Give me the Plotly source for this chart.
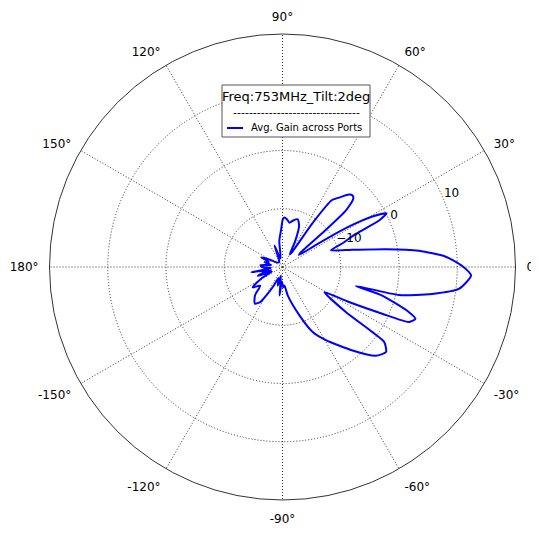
import plotly.graph_objects as go

# Radiation pattern: azimuth angle (deg, counterclockwise from 0°) and average gain (dB)
angle_deg = [
    -180, -175, -170.4, -166, -163, -160, -157, -152, -145.6, -140,
    -134, -127, -122, -119.6, -115, -110, -104, -100, -96, -92,
    -88, -84, -79.5, -70.7, -65.1, -59.3, -50, -43.6, -39.4, -36.4,
    -35.9, -35.4, -31, -27.8, -25.1, -23.5, -21.3, -19.6, -16, -14.5,
    -13.5, -10.2, -7.1, -2.6, 0.4, 3.7, 6.8, 9.8, 13.8, 19,
    21.5, 24.3, 25.7, 27.3, 29.3, 30.8, 32.2, 33.5, 36, 38.5,
    40.5, 41.7, 43.8, 45.6, 48, 50.5, 53.5, 55.5, 57.5, 60,
    64, 68, 72.3, 77, 81, 84.5, 87.7, 89.6, 92, 97,
    103, 110.6, 115, 125, 140, 150, 155.5, 160, 165, 170,
    175, 180,
]
gain_db = [
    -16.5, -18.0, -14.6, -18.0, -16.5, -15.5, -18.0, -16.0, -13.8, -15.0,
    -13.2, -12.1, -13.0, -14.4, -16.5, -18.0, -16.7, -18.5, -15.1, -17.5,
    -16.5, -16.8, -15.0, -11.2, -7.7, -5.4, -1.3, 2.1, 3.0, 1.7,
    -1.0, -6.6, -11.6, -7.1, -1.1, 3.7, 4.5, 3.0, -2.2, -7.0,
    0.6, 6.1, 10.5, 12.4, 10.8, 8.0, 3.6, -2.0, -7.6, -11.2,
    -9.0, -6.2, -1.6, 0.1, -2.3, -5.4, -9.5, -13.5, -16.5, -16.0,
    -10.5, -5.4, -3.2, -2.8, -3.3, -4.5, -5.7, -10.5, -17.0, -17.5,
    -15.0, -12.4, -11.4, -11.8, -12.3, -11.8, -11.5, -11.8, -13.5, -15.5,
    -18.5, -16.1, -18.5, -19.0, -18.8, -17.5, -16.0, -17.5, -16.8, -18.0,
    -16.2, -16.5,
]

angle_tick_vals = [0, 30, 60, 90, 120, 150, 180, 210, 240, 270, 300, 330]
angle_tick_text = ["0°", "30°", "60°", "90°", "120°", "150°", "180°",
                   "-150°", "-120°", "-90°", "-60°", "-30°"]
radial_tick_vals = [-10, 0, 10]
radial_tick_text = ["−10", "0", "10"]
radial_label_angle = 22.5
radial_range = [-20, 20]

series_name = "Avg. Gain across Ports"
legend_title = "Freq:753MHz_Tilt:2deg"
legend_rule = "-" * 32

# page body has an 8px margin; figure is sized so it fits the 539x533 window
W, H = 531, 525
ML, MR, MT, MB = 41, 23, 26, 33
PW, PH = W - ML - MR, H - MT - MB
OFF = 8


def px(x):
    return (x - OFF - ML) / PW


def py(y):
    return (OFF + MT + PH - y) / PH


font_family = "DejaVu Sans"

fig = go.Figure()
fig.add_trace(go.Scatterpolar(
    r=gain_db,
    theta=angle_deg,
    mode="lines",
    name=series_name,
    line=dict(color="#0000ff", width=2, shape="spline", smoothing=0.6),
    showlegend=False,
))
# radial tick labels, matplotlib style: horizontal, anchored at the tick along 22.5°
fig.add_trace(go.Scatterpolar(
    r=radial_tick_vals,
    theta=[radial_label_angle] * len(radial_tick_vals),
    mode="text",
    text=radial_tick_text,
    textposition="top right",
    textfont=dict(size=12, family=font_family, color="black"),
    hoverinfo="skip",
    showlegend=False,
))

fig.update_layout(
    width=W, height=H,
    paper_bgcolor="white",
    margin=dict(l=ML, r=MR, t=MT, b=MB),
    font=dict(family=font_family, size=12, color="black"),
    polar=dict(
        bgcolor="white",
        domain=dict(x=[0, 1], y=[0, 1]),
        angularaxis=dict(
            direction="counterclockwise",
            rotation=0,
            tickmode="array",
            tickvals=angle_tick_vals,
            ticktext=angle_tick_text,
            showline=True,
            linecolor="#333333",
            linewidth=1,
            showgrid=True,
            gridcolor="#333333",
            gridwidth=1,
            griddash="1px,2px",
            ticks="outside",
            ticklen=8,
            tickcolor="rgba(0,0,0,0)",
            tickfont=dict(size=12, family=font_family),
        ),
        radialaxis=dict(
            range=radial_range,
            tickmode="array",
            tickvals=radial_tick_vals,
            ticktext=radial_tick_text,
            angle=radial_label_angle,
            showticklabels=False,
            showline=False,
            ticks="",
            showgrid=True,
            gridcolor="#333333",
            gridwidth=1,
            griddash="1px,2px",
        ),
    ),
    shapes=[
        # legend frame
        dict(type="rect", xref="paper", yref="paper",
             x0=px(222), x1=px(370), y0=py(137), y1=py(85),
             line=dict(color="#555555", width=1), fillcolor="white",
             layer="above"),
        # legend sample line for the series
        dict(type="line", xref="paper", yref="paper",
             x0=px(227), x1=px(243), y0=py(128), y1=py(128),
             line=dict(color="#0000ff", width=2), layer="above"),
    ],
    annotations=[
        dict(text=legend_title, xref="paper", yref="paper",
             x=px(296), y=py(97), xanchor="center", yanchor="middle",
             showarrow=False, font=dict(size=13, family=font_family)),
        dict(text=legend_rule, xref="paper", yref="paper",
             x=px(296), y=py(112), xanchor="center", yanchor="middle",
             showarrow=False, font=dict(size=11, family=font_family)),
        dict(text=series_name, xref="paper", yref="paper",
             x=px(249), y=py(128), xanchor="left", yanchor="middle",
             showarrow=False, font=dict(size=10, family=font_family)),
    ],
)

fig.write_html("out.html")
